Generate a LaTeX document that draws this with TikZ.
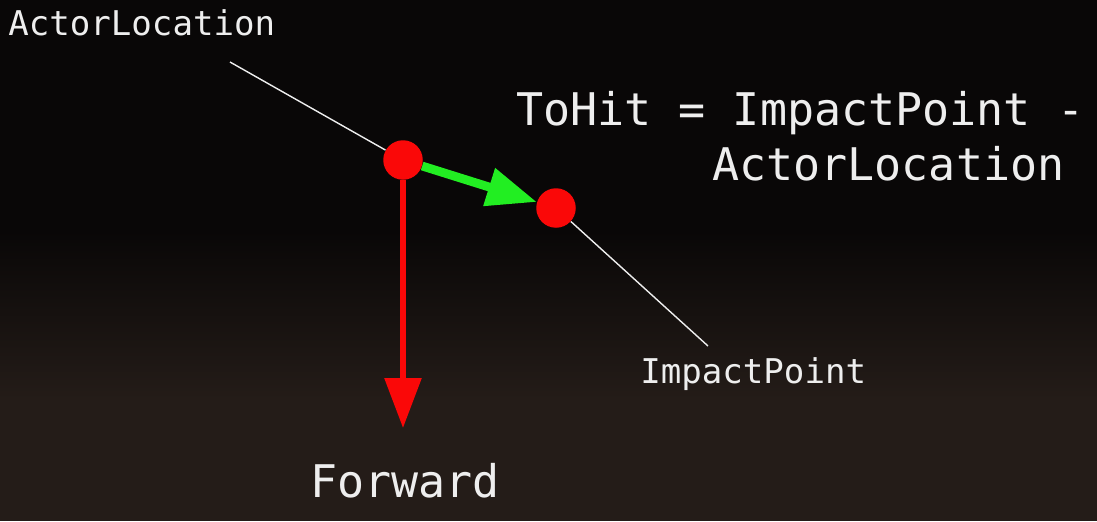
\documentclass[tikz,border=0pt]{standalone}
\usepackage{fontspec}
\setmonofont{DejaVu Sans Mono}
\usetikzlibrary{arrows.meta}
\definecolor{hitred}{RGB}{250,8,8}
\definecolor{hitgreen}{RGB}{34,238,34}
\definecolor{rockbrown}{RGB}{36,28,24}
\definecolor{nightsky}{RGB}{9,7,7}
\definecolor{chalk}{RGB}{238,238,238}

\begin{document}
\begin{tikzpicture}[x=0.02cm,y=-0.02cm,
  dot/.style={circle,fill=hitred,minimum size=0.79cm,inner sep=0pt},
  lbl/.style={text=chalk,font=\ttfamily\fontsize{19.4}{23}\selectfont,anchor=base west,inner sep=0pt},
  biglbl/.style={lbl,font=\ttfamily\fontsize{25.6}{30}\selectfont},
  pointer/.style={chalk,line width=0.8pt}]
\useasboundingbox (0,0) rectangle (1097,521);
\fill[nightsky] (0,0) rectangle (1097,230);
\shade[top color=nightsky,bottom color=rockbrown] (0,230) rectangle (1097,400);
\fill[rockbrown] (0,400) rectangle (1097,521);
\node[dot] (actor) at (403,160) {};
\node[dot] (impact) at (556,208) {};
\coordinate (actortail) at (230,62);
\coordinate (impacttail) at (708,346);
\coordinate (fwdtip) at (403,428);
\node[lbl] (actorlbl) at (8,35) {ActorLocation};
\node[lbl] (impactlbl) at (640,383) {ImpactPoint};
\node[biglbl] (fwdlbl) at (310,497) {Forward};
\node[biglbl] (tohit) at (516,125) {ToHit = ImpactPoint -};
\node[biglbl] (tohitb) at (712,180) {ActorLocation};
\draw[pointer] (actortail) -- (actor);
\draw[pointer] (impact) -- (impacttail);
\draw[hitgreen,line width=5pt,-{Triangle[length=1cm,width=0.75cm]}] (actor) -- (impact);
\draw[hitred,line width=3.3pt,-{Triangle[length=1cm,width=0.72cm]}] (actor) -- (fwdtip);
\end{tikzpicture}
\end{document}
